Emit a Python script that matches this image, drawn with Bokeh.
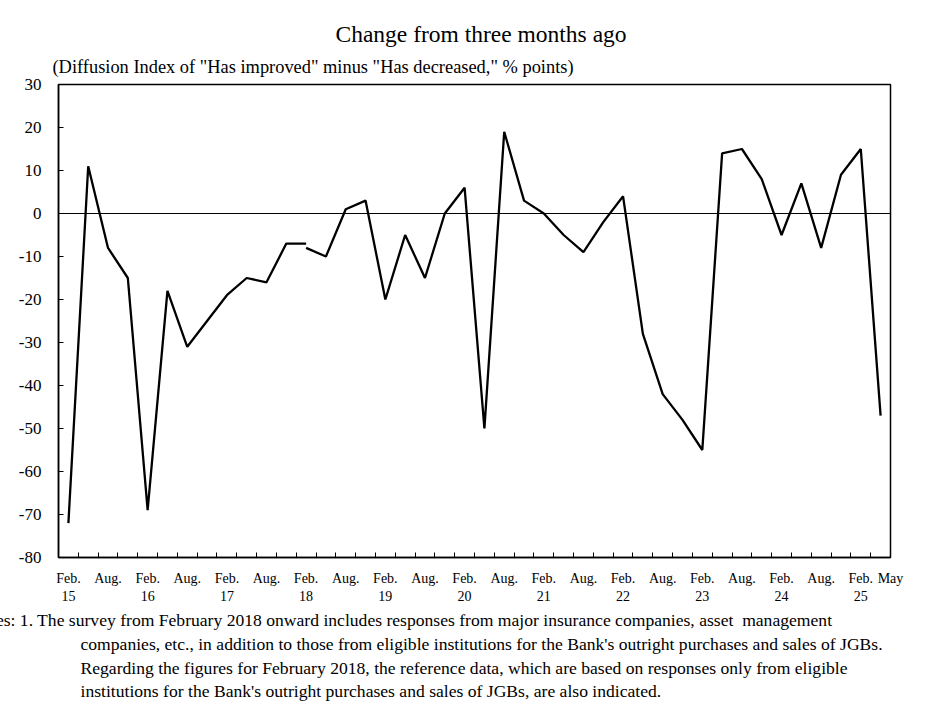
from bokeh.plotting import figure
from bokeh.models import FixedTicker, Span, Title, Range1d
from bokeh.embed import file_html
from bokeh.resources import INLINE

FONT = "Liberation Serif"

# Quarterly survey months, Feb. 2015 .. May 2025
quarters = [f"{m} {y}" for y in range(2015, 2026) for m in ("Feb", "May", "Aug", "Nov")][:42]

# Series before the respondent change (Feb. 2015 .. Feb. 2018, reference data)
old_values = [-72, 11, -8, -15, -69, -18, -31, -25, -19, -15, -16, -7, -7]
# Series from Feb. 2018 onward
new_values = [-8, -10, 1, 3, -20, -5, -15, 0, 6, -50, 19, 3, 0, -5, -9, -2, 4,
              -28, -42, -48, -55, 14, 15, 8, -5, 7, -8, 9, 15, -47]

tick_labels = []
tick_positions = []
for i, q in enumerate(quarters):
    m, y = q.split()
    if m == "Feb":
        tick_positions.append(i)
        tick_labels.append(f"Feb.\n{y[2:]}")
    elif m == "Aug":
        tick_positions.append(i)
        tick_labels.append("Aug.\n")
tick_positions.append(41.5)
tick_labels.append("May\n")

y_ticks = [30, 20, 10, 0, -10, -20, -30, -40, -50, -60, -70, -80]

title_text = "Change from three months ago"
subtitle_text = '(Diffusion Index of "Has improved" minus "Has decreased," % points)'
notes = [
    "Notes: 1. The survey from February 2018 onward includes responses from major insurance companies, asset\u00a0 management",
    "companies, etc., in addition to those from eligible institutions for the Bank's outright purchases and sales of JGBs.",
    "Regarding the figures for February 2018, the reference data, which are based on responses only from eligible",
    "institutions for the Bank's outright purchases and sales of JGBs, are also indicated.",
]

old_x = list(range(0, len(old_values)))
new_x = list(range(12, 12 + len(new_values)))

W, H = 928, 702
p = figure(width=W, height=H, output_backend="svg", toolbar_location=None,
           x_range=Range1d(-0.5, 41.5), y_range=Range1d(-80, 30),
           min_border_left=58, min_border_right=38, min_border_top=84, min_border_bottom=145)
p.xgrid.visible = False
p.ygrid.visible = False
p.outline_line_color = "black"
p.outline_line_width = 1.5
p.background_fill_color = "white"
p.border_fill_color = "white"

p.line(old_x, old_values, line_color="black", line_width=2.3)
p.line(new_x, new_values, line_color="black", line_width=2.3)
p.add_layout(Span(location=0, dimension="width", line_color="black", line_width=1.2))

# x axis
xa = p.xaxis[0]
xa.ticker = FixedTicker(ticks=tick_positions, minor_ticks=[i - 0.5 for i in range(43)])
xa.major_label_overrides = {pos: lab for pos, lab in zip(tick_positions, tick_labels)}
xa.major_tick_line_color = None
xa.minor_tick_in = 5
xa.minor_tick_out = 0
xa.minor_tick_line_color = "black"
xa.axis_line_color = "black"
xa.axis_line_width = 1.5
xa.major_label_text_font = FONT
xa.major_label_text_font_size = "14px"
xa.major_label_text_color = "black"
xa.major_label_standoff = 7

# y axis
ya = p.yaxis[0]
ya.ticker = FixedTicker(ticks=y_ticks)
ya.major_label_overrides = {v: str(v) for v in y_ticks}
ya.major_tick_in = 5
ya.major_tick_out = 0
ya.minor_tick_line_color = None
ya.axis_line_color = "black"
ya.axis_line_width = 1.5
ya.major_label_text_font = FONT
ya.major_label_text_font_size = "17px"
ya.major_label_text_color = "black"
ya.major_label_standoff = 17

# main title (outermost)
p.title.text = title_text
p.title.align = "left"
p.title.offset = 277
p.title.standoff = 2
p.title.text_font = FONT
p.title.text_font_size = "23.5px"
p.title.text_font_style = "normal"
p.title.text_color = "black"

# subtitle (next to the frame)
p.add_layout(Title(text=subtitle_text, align="left", offset=-6, standoff=15,
                   text_font=FONT, text_font_size="18.4px", text_font_style="normal",
                   text_color="black"), "above")

offsets = [-89, 22, 22, 22]
standoffs = [2, 2, 2, 0]
for t, off, so in zip(notes, offsets, standoffs):
    p.add_layout(Title(text=t, align="left", offset=off, standoff=so,
                       text_font=FONT, text_font_size="17.6px", text_font_style="normal",
                       text_color="black"), "below")

open("out.html", "w").write(file_html(p, INLINE))
